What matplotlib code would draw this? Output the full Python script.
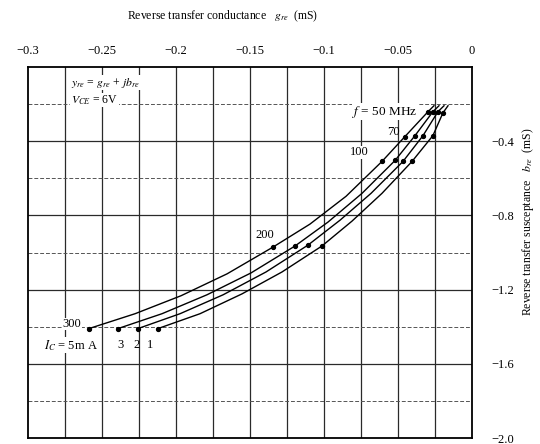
import matplotlib
matplotlib.use('Agg')
import matplotlib.pyplot as plt

plt.rcParams['font.family'] = ['Liberation Serif', 'DejaVu Serif']
plt.rcParams['mathtext.fontset'] = 'stix'

# points: g_re (mS), b_re (mS), top to bottom
g_5mA = [-0.0257, -0.0297, -0.0453, -0.0608, -0.0851, -0.1095, -0.1345, -0.1655, -0.1966, -0.2277, -0.2588]
b_5mA = [-0.209, -0.241, -0.375, -0.509, -0.697, -0.847, -0.971, -1.115, -1.233, -1.330, -1.410]
g_3mA = [-0.0223, -0.0264, -0.0385, -0.0520, -0.0743, -0.0973, -0.1196, -0.1493, -0.1791, -0.2095, -0.2392]
b_3mA = [-0.209, -0.241, -0.370, -0.504, -0.681, -0.836, -0.965, -1.110, -1.228, -1.330, -1.410]
g_2mA = [-0.0189, -0.0230, -0.0331, -0.0466, -0.0682, -0.0892, -0.1108, -0.1392, -0.1682, -0.1973, -0.2257]
b_2mA = [-0.209, -0.241, -0.370, -0.509, -0.681, -0.826, -0.960, -1.105, -1.228, -1.330, -1.410]
g_1mA = [-0.0162, -0.0196, -0.0264, -0.0405, -0.0608, -0.0811, -0.1014, -0.1284, -0.1554, -0.1838, -0.2122]
b_1mA = [-0.209, -0.247, -0.370, -0.509, -0.681, -0.831, -0.965, -1.105, -1.223, -1.330, -1.410]
curves = [(g_5mA, b_5mA), (g_3mA, b_3mA), (g_2mA, b_2mA), (g_1mA, b_1mA)]

# frequency marks (50, 70, 100, 200, 300 MHz) on every curve
dot_idx = [1, 2, 3, 6, 10]

x_ticks = [-0.3, -0.25, -0.2, -0.15, -0.1, -0.05, 0]
x_labels = ['\u22120.3', '\u22120.25', '\u22120.2', '\u22120.15', '\u22120.1', '\u22120.05', '0']
y_ticks = [-0.4, -0.8, -1.2, -1.6, -2.0]
y_labels = ['\u22120.4', '\u22120.8', '\u22121.2', '\u22121.6', '\u22122.0']

fig = plt.figure(figsize=(5.4, 4.44), dpi=100)
ax = fig.add_axes([0.052, 0.0135, 0.822, 0.8356])
ax.set_xlim(-0.3, 0)
ax.set_ylim(-2.0, 0)

# graph paper grid
for i in range(1, 12):
    ax.axvline(-0.3 + i * 0.025, color='#2a2a2a', lw=0.9, zorder=1)
for j in range(1, 10):
    y = -0.2 * j
    if j % 2 == 0:
        ax.axhline(y, color='#2a2a2a', lw=0.9, zorder=1)
    else:
        ax.axhline(y, color='#555555', lw=0.7, ls=(0, (4, 2)), zorder=1)

for g, b in curves:
    ax.plot(g, b, color='black', lw=1.0, zorder=3)
    ax.plot([g[i] for i in dot_idx], [b[i] for i in dot_idx], 'o', color='black', ms=2.8, zorder=4)

for s in ax.spines.values():
    s.set_linewidth(1.3)

ax.xaxis.tick_top()
ax.set_xticks(x_ticks)
ax.set_xticklabels(x_labels, fontsize=9)
ax.tick_params(axis='x', length=0, pad=7)
ax.yaxis.tick_right()
ax.set_yticks(y_ticks)
ax.set_yticklabels(y_labels, fontsize=9)
ax.tick_params(axis='y', length=0, pad=14)

fs = 9
wbox = dict(facecolor='white', edgecolor='none', pad=0.3)
ax.text(-0.037, -0.241, '$f$ = 50 MHz', ha='right', va='center', fontsize=9.5,
        bbox=wbox, zorder=5)
ax.text(-0.049, -0.350, '70', ha='right', va='center', fontsize=fs, zorder=5)
ax.text(-0.076, -0.460, '100', ha='center', va='center', fontsize=fs, bbox=wbox, zorder=5)
ax.text(-0.140, -0.905, '200', ha='center', va='center', fontsize=fs, bbox=wbox, zorder=5)
ax.text(-0.264, -1.385, '300', ha='right', va='center', fontsize=fs, bbox=wbox, zorder=5)
ax.text(-0.271, -1.500, '$I_C$ = 5m A', ha='center', va='center', fontsize=fs,
        bbox=wbox, zorder=5)
for lab, xx in zip(['3', '2', '1'], [-0.2378, -0.2270, -0.2176]):
    ax.text(xx, -1.500, lab, ha='center', va='center', fontsize=fs, zorder=5)

ax.text(-0.271, -0.085, '$y_{re}$ = $g_{re}$ + $jb_{re}$', ha='left', va='center',
        fontsize=8.5, bbox=dict(facecolor='white', edgecolor='none', pad=0.5), zorder=5)
ax.text(-0.271, -0.178, '$V_{CE}$ = 6V', ha='left', va='center', fontsize=8.5,
        bbox=dict(facecolor='white', edgecolor='none', pad=0.5), zorder=5)

fig.text(0.413, 0.964, 'Reverse transfer conductance   $g_{re}$  (mS)', ha='center',
         va='center', fontsize=8.5)
fig.text(0.978, 0.50, 'Reverse transfer susceptance   $b_{re}$  (mS)', ha='center',
         va='center', rotation=90, fontsize=8.5)

fig.savefig('out.png', dpi=100)
